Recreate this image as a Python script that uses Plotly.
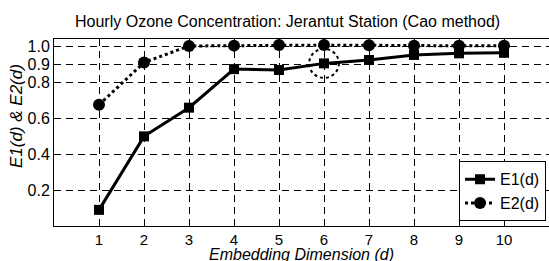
import plotly.graph_objects as go

dims = [1, 2, 3, 4, 5, 6, 7, 8, 9, 10]
e1 = [0.09, 0.50, 0.66, 0.875, 0.87, 0.907, 0.926, 0.954, 0.963, 0.966]
e2 = [0.676, 0.912, 1.004, 1.006, 1.009, 1.009, 1.008, 1.005, 1.005, 1.005]
ytick_vals = [0.2, 0.4, 0.6, 0.8, 0.9, 1.0]
ytick_text = ["0.2", "0.4", "0.6", "0.8", "0.9", "1.0"]
title_text = "Hourly Ozone Concentration: Jerantut Station (Cao method)"
xlabel = "Embedding Dimension (d)"
ylabel = "E1(d) & E2(d)"
highlight_d = 6

FONT = "Liberation Sans, Arial, sans-serif"

fig = go.Figure()
fig.add_trace(go.Scatter(
    x=dims, y=e1, name="E1(d)", mode="lines+markers",
    line=dict(color="black", width=3),
    marker=dict(symbol="square", size=10, color="black"),
))
fig.add_trace(go.Scatter(
    x=dims, y=e2, name="E2(d)", mode="lines+markers",
    line=dict(color="black", width=3, dash="dot"),
    marker=dict(symbol="circle", size=12, color="black"),
))

hy = e1[dims.index(highlight_d)]
fig.add_shape(type="circle", xref="x", yref="y",
              x0=highlight_d - 0.33, x1=highlight_d + 0.33,
              y0=hy - 0.081, y1=hy + 0.081,
              line=dict(color="black", width=2, dash="dot"))

fig.add_annotation(text="<i>" + ylabel + "</i>", xref="paper", yref="paper",
                   x=0, xshift=-38, y=0.588, textangle=-90, showarrow=False,
                   xanchor="center", yanchor="middle",
                   font=dict(family=FONT, size=17, color="black"))
fig.add_annotation(text="<i>" + xlabel + "</i>", xref="paper", yref="paper",
                   x=0.5, y=0, yshift=-28, showarrow=False,
                   xanchor="center", yanchor="middle",
                   font=dict(family=FONT, size=16, color="black"))
fig.add_annotation(text=title_text, xref="paper", yref="paper",
                   x=0.472, y=1.0, yshift=18, showarrow=False,
                   xanchor="center", yanchor="middle",
                   font=dict(family=FONT, size=16, color="black"))

fig.update_layout(
    width=549, height=261,
    margin=dict(l=54, r=0, t=39, b=35),
    paper_bgcolor="white", plot_bgcolor="white",
    font=dict(family=FONT, size=16, color="black"),
    showlegend=True,
    legend=dict(x=0.994, y=0.025, xanchor="right", yanchor="bottom",
                bgcolor="white", bordercolor="black", borderwidth=1,
                font=dict(family=FONT, size=16, color="black"),
                itemwidth=30, tracegroupgap=0),
    xaxis=dict(range=[0, 11], tickvals=dims, ticktext=[str(d) for d in dims],
               showline=True, linecolor="black", linewidth=1, mirror=True,
               showgrid=True, gridcolor="black", gridwidth=1, griddash="7px,5px",
               ticks="inside", ticklen=4, tickcolor="black",
               zeroline=False, tickfont=dict(size=15)),
    yaxis=dict(range=[0, 1.043], tickvals=ytick_vals, ticktext=ytick_text,
               showline=True, linecolor="black", linewidth=1, mirror=True,
               showgrid=True, gridcolor="black", gridwidth=1, griddash="7px,5px",
               ticks="inside", ticklen=4, tickcolor="black",
               zeroline=False, tickfont=dict(size=16)),
)

fig.write_html("out.html", config={"displayModeBar": False},
               post_script="document.body.style.margin='0';document.body.style.padding='0';")
